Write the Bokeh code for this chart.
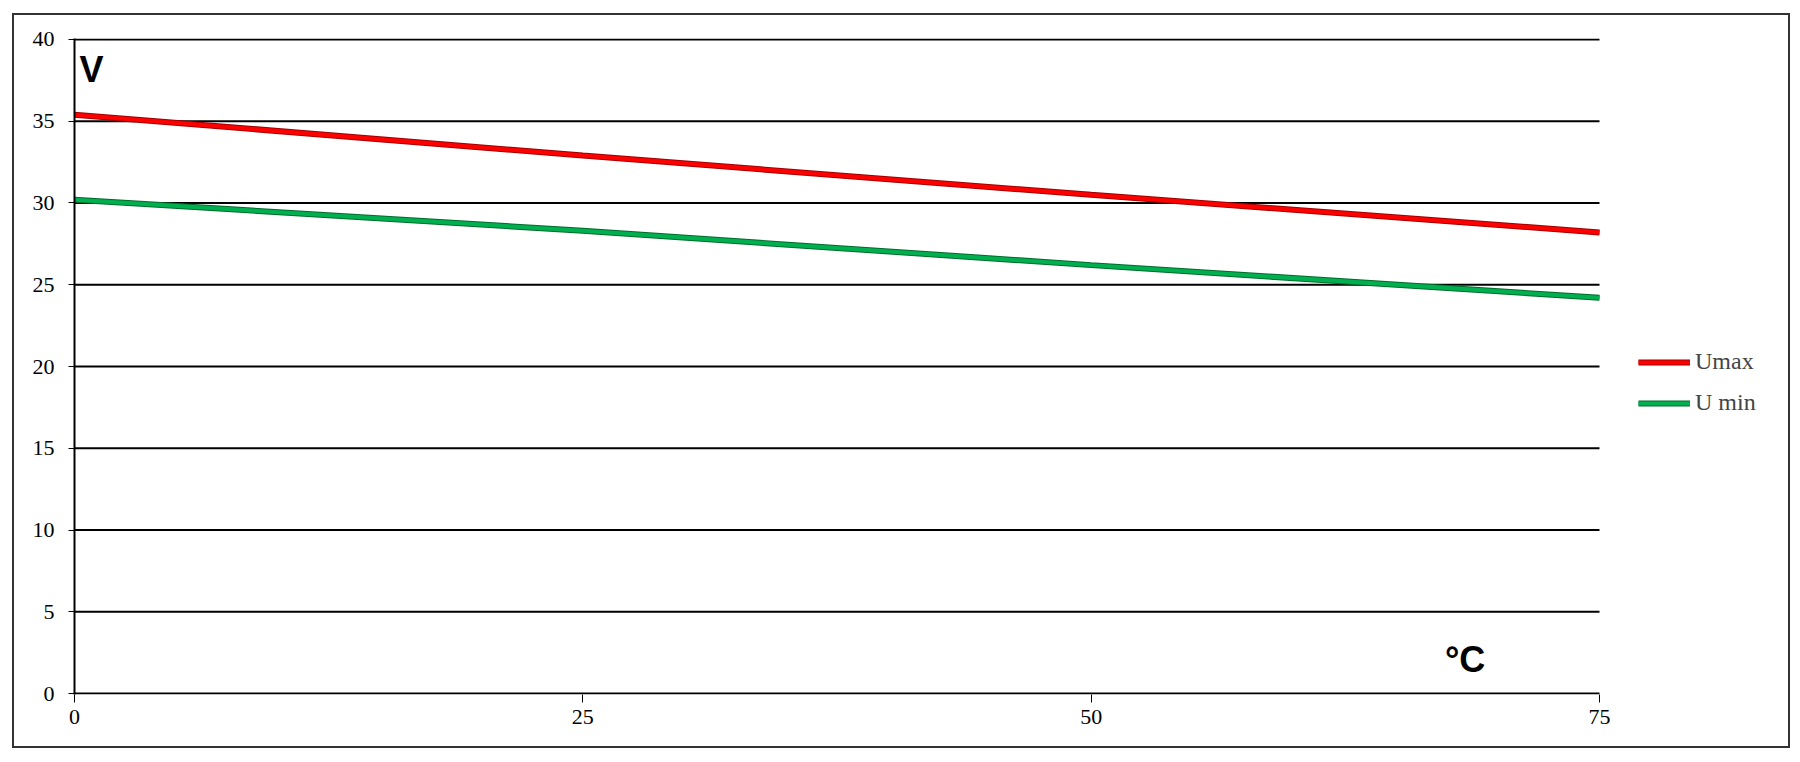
from bokeh.plotting import figure
from bokeh.models import Range1d, FixedTicker, Legend, LegendItem, Label
from bokeh.embed import file_html
from bokeh.resources import INLINE

temps = [0, 25, 50, 75]
umax = [35.4, 32.9, 30.5, 28.2]
umin = [30.2, 28.3, 26.2, 24.2]
x_ticks = [0, 25, 50, 75]
y_ticks = [0, 5, 10, 15, 20, 25, 30, 35, 40]

p = figure(width=1778, height=735, output_backend="svg", toolbar_location=None,
           x_range=Range1d(0, 84), y_range=Range1d(-0.06, 40.06),
           min_border_left=60, min_border_right=10, min_border_top=23, min_border_bottom=56)
p.styles = {"border": "2px solid #333333", "margin-left": "12px", "margin-top": "13px"}
p.outline_line_color = None
p.background_fill_color = "white"
p.border_fill_color = "white"

for ax in (p.xaxis, p.yaxis):
    ax.axis_line_color = "black"
    ax.axis_line_width = 2
    ax.major_tick_line_color = "black"
    ax.major_tick_line_width = 1
    ax.minor_tick_line_color = None
    ax.major_tick_in = 0
    ax.major_label_text_font = "Liberation Serif"
    ax.major_label_text_font_size = "22px"
    ax.major_label_text_color = "black"

p.xaxis.axis_line_color = None
p.xaxis.ticker = FixedTicker(ticks=x_ticks)
p.yaxis.ticker = FixedTicker(ticks=y_ticks)
p.xaxis.major_tick_out = 8
p.yaxis.major_tick_out = 6
p.xaxis.major_label_standoff = 7
p.yaxis.major_label_standoff = 14

p.xgrid.grid_line_color = None
p.ygrid.grid_line_color = None

# horizontal gridlines ending at the last x tick (Excel style)
p.segment(x0=[x_ticks[0]] * len(y_ticks), x1=[x_ticks[-1]] * len(y_ticks),
          y0=y_ticks, y1=y_ticks, line_color="black", line_width=2)

r1o = p.line(temps, umax, line_color="#a00000", line_width=6)
r1 = p.line(temps, umax, line_color="#ff0000", line_width=4)
r2o = p.line(temps, umin, line_color="#006b2a", line_width=6)
r2 = p.line(temps, umin, line_color="#00b050", line_width=4)

legend = Legend(items=[LegendItem(label="Umax", renderers=[r1o, r1]),
                       LegendItem(label="U min", renderers=[r2o, r2])],
                location=(1564, 278), border_line_color=None, background_fill_alpha=0,
                label_text_font="Liberation Serif", label_text_font_size="24px",
                glyph_width=52, glyph_height=20, label_height=20, spacing=14,
                padding=10, label_standoff=5, margin=0)
p.add_layout(legend)

p.add_layout(Label(x=0.25, y=39.43, text="V", text_font="Liberation Sans",
                   text_font_style="bold", text_font_size="36px", text_color="black",
                   text_baseline="top"))
p.add_layout(Label(x=67.4, y=3.31, text="°C", text_font="Liberation Sans",
                   text_font_style="bold", text_font_size="36px", text_color="black",
                   text_baseline="top"))

open("out.html", "w").write(file_html(p, INLINE))
